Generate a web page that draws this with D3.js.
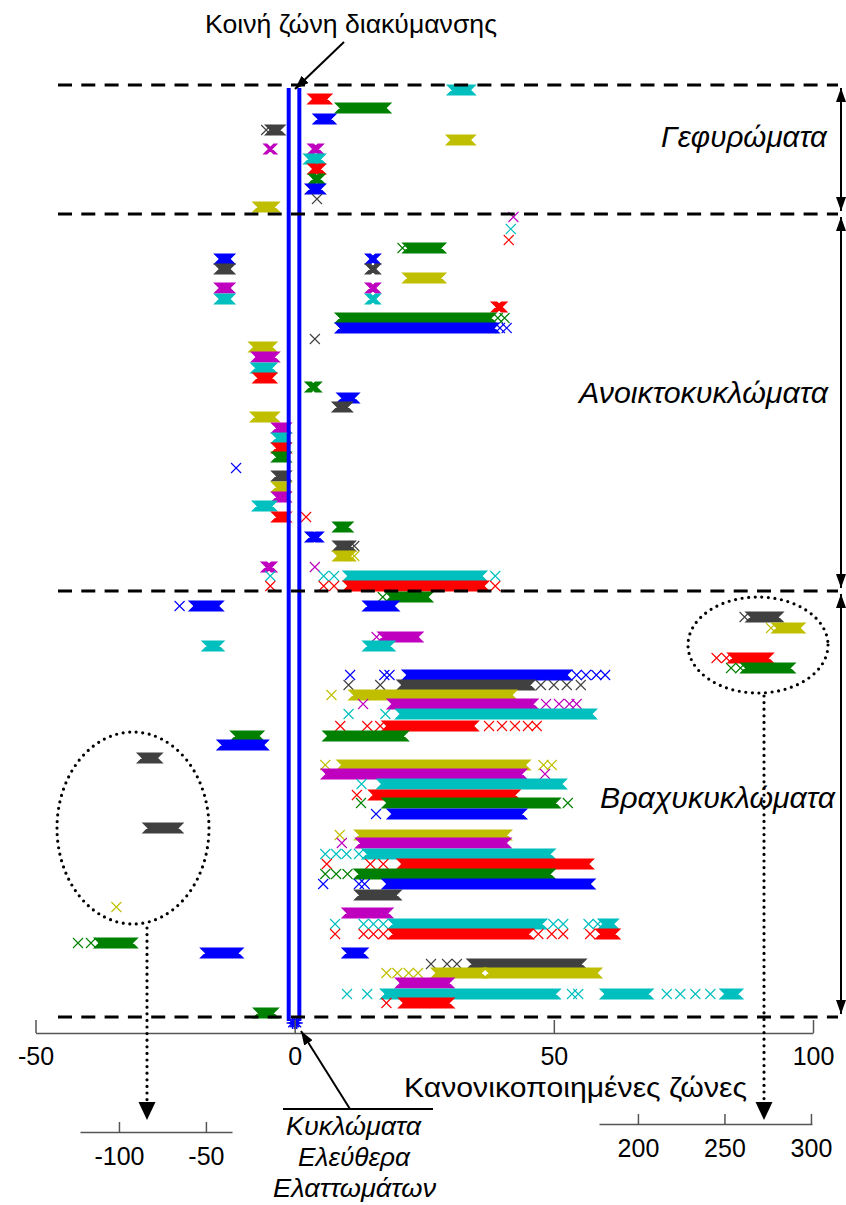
<!DOCTYPE html>
<html>
<head>
<meta charset="utf-8">
<script src="https://cdn.jsdelivr.net/npm/d3@7"></script>
<style>
  body { margin: 0; background: #fff; }
  svg { display: block; }
  text { font-family: "Liberation Sans", Arial, sans-serif; fill: #000; }
</style>
</head>
<body>
<svg id="chart" width="846" height="1205"></svg>
<script>
// Marker colours per circuit
const palette = { b: "#0000ff", g: "#008000", r: "#ff0000", c: "#00bfbf", m: "#bf00bf", y: "#bfbf00", k: "#404040" };

// Each row: [row position, colour key, items]; an item is a single normalised band value
// or a [from, to] run of densely packed values.
const bridgingRows = [
  [0.5, "c", [[30.4, 33.9]]],
  [1.4, "r", [[3.5, 6.2]]],
  [2.3, "g", [[8.8, 17.6]]],
  [3.4, "b", [[4.5, 7.0]]],
  [4.5, "k", [-5.5, [-4.7, -2.8]]],
  [5.5, "y", [[30.2, 33.9]]],
  [6.4, "m", [[-5.0, -4.4], [3.5, 4.6]]],
  [7.4, "c", [[2.7, 5.0]]],
  [8.4, "r", [[3.5, 5.0]]],
  [9.4, "g", [[3.6, 4.9]]],
  [10.4, "b", [[3.0, 5.0]]],
  [11.4, "k", [4.3]],
  [12.2, "y", [[-7.1, -3.9]]]
];

const openRows = [
  [13.2, "m", [42.2]],
  [14.4, "c", [41.7]],
  [15.5, "r", [41.3]],
  [16.3, "g", [20.8, [21.8, 28.2]]],
  [17.4, "b", [[-14.5, -12.5], [14.6, 15.6]]],
  [18.4, "k", [[-14.5, -12.5], [14.6, 15.6]]],
  [19.3, "y", [[21.8, 28.2]]],
  [20.3, "m", [[-14.5, -12.5], [14.6, 15.6]]],
  [21.4, "c", [[-14.5, -12.5], [14.6, 15.6]]],
  [22.2, "r", [[38.9, 40.0]]],
  [23.3, "g", [[8.8, 37.9], 39.2, 40.5]],
  [24.3, "b", [[8.8, 38.5], 39.6, 40.9]],
  [25.4, "k", [3.9]],
  [26.2, "y", [[-7.9, -4.4]]],
  [27.2, "m", [[-7.4, -3.9]]],
  [28.3, "c", [[-7.5, -4.4]]],
  [29.3, "r", [[-7.1, -4.4]]],
  [30.2, "g", [[3.0, 4.2]]],
  [31.3, "b", [[9.1, 11.5]]],
  [32.2, "k", [[8.2, 10.2]]],
  [33.2, "y", [[-7.6, -3.9]]],
  [34.3, "m", [[-3.5, -1.6]]],
  [35.3, "c", [[-3.5, -1.6]]],
  [36.3, "r", [[-3.5, -1.6]]],
  [37.2, "g", [[-3.5, -1.6]]],
  [38.3, "b", [-11.3]],
  [39.1, "k", [[-3.5, -1.6]]],
  [40.2, "y", [[-3.5, -1.6]]],
  [41.2, "m", [[-3.5, -1.6]]],
  [42.1, "c", [[-7.2, -4.4]]],
  [43.2, "r", [[-3.5, -1.6], 2.2]],
  [44.2, "g", [[8.3, 10.3]]],
  [45.2, "b", [[3.0, 4.6]]],
  [46.1, "k", [[8.3, 10.8], 11.5]],
  [47.1, "y", [[8.3, 10.8], 11.5]],
  [48.2, "m", [[-5.5, -4.4], 3.9]],
  [49.1, "c", [-4.7, 5.6, 7.6, [10.3, 36.1], 38.7]],
  [50.1, "r", [-4.7, 5.6, 7.6, [10.3, 36.5], 38.7]]
];

const shortRows = [
  [51.2, "g", [17.0, [18.5, 25.7]]],
  [52.1, "b", [-22.2, [-19.4, -14.7], [14.1, 19.2]]],
  [53.2, "k", [86.8, [88.0, 93.3]]],
  [54.3, "y", [91.9, [93.0, 97.5]]],
  [55.2, "m", [15.8, [17.0, 23.8]]],
  [56.1, "c", [[-16.9, -14.6], [14.1, 18.4]]],
  [57.3, "r", [81.4, 83.3, [84.5, 91.4]]],
  [58.3, "g", [84.2, 86.0, [87.0, 95.6]]],
  [59.0, "b", [10.7, 17.3, 18.3, [21.7, 52.5], 54.4, 56.2, 58.2, 59.9]],
  [60.0, "k", [10.4, 16.5, [20.7, 45.4], 47.5, 50.0, 52.5, 55.2]],
  [61.0, "y", [7.1, [11.4, 41.9]]],
  [61.9, "m", [13.2, [18.8, 46.0], 48.5, 51.0, 53.0, 54.4]],
  [62.9, "c", [10.4, 17.5, [20.4, 57.3]]],
  [64.1, "r", [8.8, 14.0, 16.5, [17.8, 34.5], 37.5, 40.0, 42.5, 45.0, 46.7]],
  [65.1, "g", [[-11.4, -6.9], [6.4, 21.0]]],
  [66.0, "b", [[-14.0, -6.0]]],
  [67.3, "k", [[-29.4, -26.5]]],
  [68.0, "y", [5.9, [9.1, 44.5], 48.0, 49.6]],
  [68.9, "m", [[6.1, 43.8], 48.3]],
  [69.9, "c", [12.9, [16.8, 51.5]]],
  [71.0, "r", [12.0, [15.2, 42.5]]],
  [71.8, "g", [12.8, [17.8, 50.3], 52.7]],
  [72.9, "b", [15.7, [18.8, 43.8]]],
  [74.3, "k", [[-28.3, -22.5]]],
  [75.0, "y", [8.7, [12.5, 40.9]]],
  [75.8, "m", [9.1, [12.7, 40.8]]],
  [76.9, "c", [5.9, 8.0, 10.0, 12.4, [14.0, 49.3]]],
  [77.9, "r", [6.2, 14.6, 17.1, [20.7, 56.7]]],
  [78.9, "g", [5.9, 8.0, 10.2, [12.4, 49.3]]],
  [79.9, "b", [5.5, 12.4, 13.5, [17.8, 57.0]]],
  [81.0, "k", [[12.5, 19.6]]],
  [82.2, "y", [-34.4]],
  [82.8, "m", [[10.1, 18.0]]],
  [83.9, "c", [7.8, 13.3, 15.2, 17.1, [19.0, 47.7], 49.9, 51.8, 56.7, 58.5, [59.5, 61.5]]],
  [84.9, "r", [7.8, 13.3, 15.2, 17.1, [19.0, 45.1], 47.0, 49.6, 51.8, 57.0, [59.0, 61.8]]],
  [85.8, "g", [-41.8, -39.3, [-37.7, -31.3]]],
  [86.8, "b", [[-17.2, -10.9], [10.1, 13.2]]],
  [87.9, "k", [26.3, 29.4, 31.3, [34.2, 55.3]]],
  [88.8, "y", [17.7, 19.8, 22.0, 23.8, [27.3, 36.0], [37.5, 58.3]]],
  [89.8, "m", [[20.4, 29.8]]],
  [90.9, "c", [10.1, 14.0, [17.5, 50.3], 53.5, 54.7, [59.9, 68.2], 71.8, 74.4, 77.3, 80.2, [83.0, 85.5]]],
  [91.8, "r", [17.7, [21.0, 29.8]]],
  [92.8, "g", [[-7.0, -4.1]]]
];

// Fault-free circuits (asterisks) and the common variation band edges
const faultFree = [-0.4, 0, 0.4];
const faultFreeRow = 93.8;
const commonBand = [-1.15, 0.9];

// Group separators (row positions) and labels
const groupEdges = [0, 12.9, 50.6, 93.2];
const groupNames = ["Γεφυρώματα", "Ανοικτοκυκλώματα", "Βραχυκυκλώματα"];

// Axis ticks
const mainTicks = [-50, 0, 50, 100];
const lowTicks = [-100, -50];
const highTicks = [200, 250, 300];

const svg = d3.select("#chart");

const x = d3.scaleLinear().domain([-50, 100]).range([35.5, 813]);
const y = d3.scaleLinear().domain([0, 93.2]).range([85, 1017]);

// Arrowhead markers
const defs = svg.append("defs");
defs.append("marker")
  .attr("id", "head").attr("viewBox", "0 -5 14 10")
  .attr("refX", 14).attr("refY", 0)
  .attr("markerWidth", 14).attr("markerHeight", 10)
  .attr("markerUnits", "userSpaceOnUse")
  .attr("orient", "auto-start-reverse")
  .append("path").attr("d", "M0,-5L14,0L0,5Z").attr("fill", "#000");
defs.append("marker")
  .attr("id", "bighead").attr("viewBox", "0 -8.5 18 17")
  .attr("refX", 18).attr("refY", 0)
  .attr("markerWidth", 18).attr("markerHeight", 17)
  .attr("markerUnits", "userSpaceOnUse")
  .attr("orient", "auto")
  .append("path").attr("d", "M0,-8.5L18,0L0,8.5Z").attr("fill", "#000");

// A run of 'x' markers from a to b (pixels) at row height yy: union of the two diagonal strokes
const H = 5;
function runPath(a, b, yy) {
  return `M${a - H},${yy - H}L${b - H},${yy - H}L${b + H},${yy + H}L${a + H},${yy + H}Z` +
         `M${a + H},${yy - H}L${b + H},${yy - H}L${b - H},${yy + H}L${a - H},${yy + H}Z`;
}

const marks = svg.append("g").attr("class", "marks");
[bridgingRows, openRows, shortRows].forEach(rows => {
  rows.forEach(([pos, key, items]) => {
    const yy = y(pos);
    items.forEach(it => {
      const [lo, hi] = Array.isArray(it) ? it : [it, it];
      marks.append("path")
        .attr("d", runPath(x(lo), x(hi), yy))
        .attr("fill", palette[key])
        .attr("stroke", palette[key])
        .attr("stroke-width", 1.1)
        .attr("stroke-linejoin", "miter");
    });
  });
});

// Fault-free circuits as blue asterisks
faultFree.forEach(v => {
  const cx = x(v), cy = y(faultFreeRow), r = 6, d = 4.3;
  marks.append("path")
    .attr("d", `M${cx - r},${cy}L${cx + r},${cy}M${cx},${cy - r}L${cx},${cy + r}` +
               `M${cx - d},${cy - d}L${cx + d},${cy + d}M${cx - d},${cy + d}L${cx + d},${cy - d}`)
    .attr("stroke", palette.b).attr("stroke-width", 1.5).attr("fill", "none");
});

// Common variation band (two blue verticals)
svg.append("g").selectAll("line").data(commonBand).join("line")
  .attr("x1", d => x(d)).attr("x2", d => x(d))
  .attr("y1", y(0.3)).attr("y2", y(93.6))
  .attr("stroke", "#0000ff").attr("stroke-width", 4);

// Dashed group separators
svg.append("g").selectAll("line").data(groupEdges).join("line")
  .attr("x1", 58).attr("x2", 838)
  .attr("y1", d => y(d)).attr("y2", d => y(d))
  .attr("stroke", "#000").attr("stroke-width", 3.2)
  .attr("stroke-dasharray", "14,9.3");

// Double-headed arrows spanning each group
const spans = d3.pairs(groupEdges);
svg.append("g").selectAll("line").data(spans).join("line")
  .attr("x1", 841).attr("x2", 841)
  .attr("y1", d => y(d[0]) + 3).attr("y2", d => y(d[1]) - 3)
  .attr("stroke", "#000").attr("stroke-width", 2)
  .attr("marker-start", "url(#head)").attr("marker-end", "url(#head)");

// Group labels
const labelPos = [
  { x: 661, y: 147, len: 166 },
  { x: 579, y: 403, len: 249 },
  { x: 600, y: 808, len: 235 }
];
svg.append("g").selectAll("text").data(groupNames).join("text")
  .attr("x", (d, i) => labelPos[i].x).attr("y", (d, i) => labelPos[i].y)
  .attr("textLength", (d, i) => labelPos[i].len)
  .attr("lengthAdjust", "spacingAndGlyphs")
  .attr("font-size", 29).attr("font-style", "italic")
  .text(d => d);

// Main x axis
const axisY = 1033;
const ax = svg.append("g").attr("transform", `translate(0,${axisY})`)
  .call(d3.axisBottom(x).tickValues(mainTicks).tickSizeInner(-13).tickSizeOuter(0)
    .tickFormat(d => String(d)));
ax.select(".domain").attr("stroke", "#555").attr("stroke-width", 1.5);
ax.selectAll(".tick line").attr("stroke", "#555").attr("stroke-width", 1.5);
ax.selectAll(".tick text").attr("y", 32).attr("dy", null)
  .attr("font-size", 25).attr("font-family", "Liberation Sans, Arial, sans-serif").attr("fill", "#000");

svg.append("text").attr("x", 404).attr("y", 1097)
  .attr("textLength", 343).attr("lengthAdjust", "spacingAndGlyphs")
  .attr("font-size", 27).text("Κανονικοποιημένες ζώνες");

// Secondary axes for the out-of-range clusters
const xLow = d3.scaleLinear().domain([-122.4, -35]).range([80, 232]);
const xHigh = d3.scaleLinear().domain([177.5, 300.6]).range([599, 812]);
function subAxis(scale, ticks, yPos) {
  const g = svg.append("g").attr("transform", `translate(0,${yPos})`)
    .call(d3.axisBottom(scale).tickValues(ticks).tickSizeInner(-10).tickSizeOuter(0)
      .tickFormat(d => String(d)));
  g.select(".domain").attr("stroke", "#555").attr("stroke-width", 1.5);
  g.selectAll(".tick line").attr("stroke", "#555").attr("stroke-width", 1.5);
  g.selectAll(".tick text").attr("y", 33).attr("dy", null)
    .attr("font-size", 25).attr("font-family", "Liberation Sans, Arial, sans-serif").attr("fill", "#000");
}
subAxis(xLow, lowTicks, 1132);
subAxis(xHigh, highTicks, 1124);

// Dotted ellipses around the out-of-range clusters, with dotted arrows to their axes
const dotted = { stroke: "#000", "stroke-width": 3.2, "stroke-dasharray": "0,6.6", "stroke-linecap": "round", fill: "none" };
function applyAttrs(sel, o) { Object.entries(o).forEach(([k, v]) => sel.attr(k, v)); return sel; }
applyAttrs(svg.append("ellipse").attr("cx", 133).attr("cy", 828).attr("rx", 76).attr("ry", 96), dotted);
applyAttrs(svg.append("ellipse").attr("cx", 758).attr("cy", 645).attr("rx", 70).attr("ry", 48), dotted);
applyAttrs(svg.append("line").attr("x1", 147).attr("x2", 147).attr("y1", 928).attr("y2", 1103), dotted);
applyAttrs(svg.append("line").attr("x1", 764).attr("x2", 764).attr("y1", 696).attr("y2", 1103), dotted);
svg.append("path").attr("d", "M138.5,1102L155.5,1102L147,1120Z").attr("fill", "#000");
svg.append("path").attr("d", "M755.5,1102L772.5,1102L764,1120Z").attr("fill", "#000");

// Annotation: common variation band
svg.append("text").attr("x", 205).attr("y", 33)
  .attr("textLength", 292).attr("lengthAdjust", "spacingAndGlyphs")
  .attr("font-size", 26).text("Κοινή ζώνη διακύμανσης");
svg.append("line").attr("x1", 344).attr("y1", 42).attr("x2", 295).attr("y2", 89)
  .attr("stroke", "#000").attr("stroke-width", 2).attr("marker-end", "url(#head)");

// Annotation: fault-free circuits
svg.append("line").attr("x1", 283).attr("x2", 433).attr("y1", 1109).attr("y2", 1109)
  .attr("stroke", "#000").attr("stroke-width", 2);
svg.append("line").attr("x1", 350).attr("y1", 1109).attr("x2", 301).attr("y2", 1031)
  .attr("stroke", "#000").attr("stroke-width", 2).attr("marker-end", "url(#head)");
const freeLines = [
  { t: "Κυκλώματα", y: 1135, x: 286, len: 135 },
  { t: "Ελεύθερα", y: 1166, x: 298, len: 112 },
  { t: "Ελαττωμάτων", y: 1197, x: 273, len: 163 }
];
svg.append("g").selectAll("text").data(freeLines).join("text")
  .attr("x", d => d.x).attr("y", d => d.y)
  .attr("textLength", d => d.len).attr("lengthAdjust", "spacingAndGlyphs")
  .attr("font-size", 26).attr("font-style", "italic")
  .text(d => d.t);
</script>
</body>
</html>
